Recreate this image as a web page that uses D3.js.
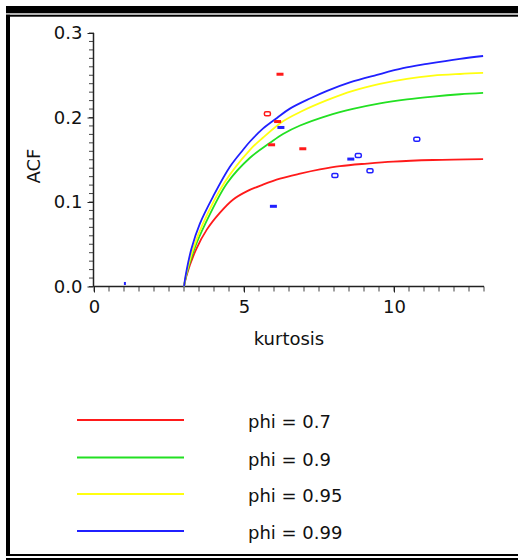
<!DOCTYPE html>
<html>
<head>
<meta charset="utf-8">
<script src="https://cdn.jsdelivr.net/npm/d3@7"></script>
<style>
  html, body { margin: 0; padding: 0; background: #fff; }
  svg { display: block; }
  text { font-family: "DejaVu Sans", sans-serif; fill: #111; }
</style>
</head>
<body>
<svg id="chart" width="518" height="560"></svg>
<script>
// ---- data ----
const seriesNames = ["phi = 0.7", "phi = 0.9", "phi = 0.95", "phi = 0.99"];
const seriesColors = ["#ff1a1a", "#22e022", "#ffff10", "#2020ff"];

const kurtPhi07 = [3.0, 3.08, 3.4, 3.76, 4.2, 4.63, 5.09, 5.63, 6.2, 6.87, 7.53, 8.2, 9.1, 9.97, 11.3, 12.97];
const acfPhi07  = [0.0, 0.0125, 0.0437, 0.0673, 0.0874, 0.1027, 0.1126, 0.1205, 0.1276, 0.1335, 0.1385, 0.1425, 0.1455, 0.1478, 0.1497, 0.1508];

const kurtPhi09 = [3.0, 3.08, 3.35, 3.7, 4.44, 5.2, 5.87, 6.3, 6.87, 7.77, 8.63, 9.53, 10.43, 11.3, 12.2, 12.97];
const acfPhi09  = [0.0, 0.014, 0.045, 0.0735, 0.1225, 0.1524, 0.1701, 0.1805, 0.1905, 0.202, 0.2102, 0.2168, 0.2215, 0.2248, 0.2275, 0.2291];

const kurtPhi095 = [3.0, 3.07, 3.32, 3.62, 4.34, 5.2, 5.63, 6.3, 6.87, 7.77, 8.63, 9.53, 10.43, 11.3, 12.2, 12.97];
const acfPhi095  = [0.0, 0.014, 0.046, 0.0735, 0.1225, 0.1618, 0.176, 0.1955, 0.2065, 0.2205, 0.2315, 0.2398, 0.2458, 0.2495, 0.2515, 0.2527];

const kurtPhi099 = [3.0, 3.06, 3.25, 3.53, 3.97, 4.53, 4.97, 5.2, 5.63, 6.1, 6.53, 7.2, 7.77, 8.53, 9.43, 10.3, 11.1, 12.2, 12.97];
const acfPhi099  = [0.0, 0.014, 0.045, 0.0745, 0.1065, 0.1417, 0.1618, 0.1716, 0.1868, 0.1995, 0.2105, 0.2225, 0.2315, 0.2415, 0.2504, 0.2583, 0.2634, 0.2695, 0.2728];

// observed points
const redPtKurt  = [6.2, 5.78, 6.12, 5.92, 6.96];
const redPtAcf   = [0.2512, 0.2043, 0.1952, 0.1677, 0.163];
const redPtShape = ["dash", "ring", "dash", "dash", "dash"];

const bluePtKurt  = [1.03, 6.23, 10.76, 8.56, 8.81, 9.2, 8.03, 5.98];
const bluePtAcf   = [0.003, 0.1882, 0.1744, 0.1508, 0.155, 0.137, 0.1315, 0.0949];
const bluePtShape = ["dot", "dash", "ring", "dash", "ring", "ring", "ring", "dash"];

const xTickValues = [0, 5, 10];
const yTickValues = [0.0, 0.1, 0.2, 0.3];
const xLabel = "kurtosis";
const yLabel = "ACF";

// ---- build ----
const svg = d3.select("#chart");

// frame
svg.append("rect").attr("x", 6).attr("y", 6).attr("width", 512).attr("height", 7.3).attr("fill", "#000");
svg.append("rect").attr("x", 6).attr("y", 14.7).attr("width", 512).attr("height", 2).attr("fill", "#000");
svg.append("rect").attr("x", 6).attr("y", 14.7).attr("width", 4).attr("height", 541.3).attr("fill", "#000");
svg.append("rect").attr("x", 6).attr("y", 554).attr("width", 512).attr("height", 2).attr("fill", "#000");
svg.append("rect").attr("x", 6).attr("y", 558).attr("width", 512).attr("height", 2).attr("fill", "#000");

const x = d3.scaleLinear().domain([0, 13]).range([94, 484]);
const y = d3.scaleLinear().domain([0, 0.3]).range([286.5, 33]);

// minor ticks
const g = svg.append("g");
const xMinor = d3.range(0, 13.001, 0.5);
g.selectAll(".xminor").data(xMinor).join("line")
  .attr("x1", d => x(d)).attr("x2", d => x(d))
  .attr("y1", y(0)).attr("y2", y(0) + 5)
  .attr("stroke", "#444").attr("stroke-width", 1);
const yMinor = d3.range(0, 0.3001, 0.01);
g.selectAll(".yminor").data(yMinor).join("line")
  .attr("x1", x(0) - 5).attr("x2", x(0))
  .attr("y1", d => y(d)).attr("y2", d => y(d))
  .attr("stroke", "#444").attr("stroke-width", 1);

// axes
const xAxis = d3.axisBottom(x).tickValues(xTickValues).tickSize(6).tickPadding(8).tickFormat(d3.format("d"));
const yAxis = d3.axisLeft(y).tickValues(yTickValues).tickSize(6).tickPadding(5).tickFormat(d3.format(".1f"));

const gx = svg.append("g").attr("transform", `translate(0,${y(0)})`).call(xAxis);
const gy = svg.append("g").attr("transform", `translate(${x(0) - 0.5},0)`).call(yAxis);
[gx, gy].forEach(a => {
  a.select(".domain").attr("stroke", "#222").attr("stroke-width", 1.5);
  a.selectAll(".tick line").attr("stroke", "#222");
  a.selectAll(".tick text").attr("font-family", "DejaVu Sans").attr("font-size", 18).attr("fill", "#222");
});
gx.select(".domain").attr("d", `M${x(0)},0H${x(13)}`);
gy.select(".domain").attr("d", `M0,${y(0)}V${y(0.3)}`);

svg.append("text").attr("x", x(6.5)).attr("y", 345).attr("text-anchor", "middle")
  .attr("font-size", 18).attr("fill", "#222").text(xLabel);
svg.append("text").attr("transform", "translate(40,166) rotate(-90)").attr("text-anchor", "middle")
  .attr("font-size", 18).attr("fill", "#222").text(yLabel);

// curves
const curves = [
  d3.zip(kurtPhi07, acfPhi07),
  d3.zip(kurtPhi09, acfPhi09),
  d3.zip(kurtPhi095, acfPhi095),
  d3.zip(kurtPhi099, acfPhi099)
];
const line = d3.line().x(d => x(d[0])).y(d => y(d[1])).curve(d3.curveCatmullRom.alpha(0.5));
svg.append("g").selectAll("path").data(curves).join("path")
  .attr("d", line).attr("fill", "none")
  .attr("stroke", (d, i) => seriesColors[i]).attr("stroke-width", 1.8);

// points
function drawPoints(ks, as, shapes, color) {
  const pts = d3.zip(ks, as, shapes);
  const gp = svg.append("g");
  gp.selectAll("rect.dash").data(pts.filter(p => p[2] === "dash")).join("rect")
    .attr("x", d => x(d[0]) - 3.5).attr("y", d => y(d[1]) - 1.5)
    .attr("width", 7).attr("height", 3).attr("fill", color);
  gp.selectAll("rect.dot").data(pts.filter(p => p[2] === "dot")).join("rect")
    .attr("x", d => x(d[0]) - 1).attr("y", d => y(d[1]) - 2)
    .attr("width", 2).attr("height", 3).attr("fill", color);
  gp.selectAll("rect.ring").data(pts.filter(p => p[2] === "ring")).join("rect")
    .attr("x", d => x(d[0]) - 3).attr("y", d => y(d[1]) - 2)
    .attr("width", 6).attr("height", 4).attr("rx", 1.5)
    .attr("fill", "none").attr("stroke", color).attr("stroke-width", 1.5);
}
drawPoints(redPtKurt, redPtAcf, redPtShape, seriesColors[0]);
drawPoints(bluePtKurt, bluePtAcf, bluePtShape, seriesColors[3]);

// legend
const legendY = [420, 457.5, 494, 531];
const lg = svg.append("g");
seriesNames.forEach((name, i) => {
  lg.append("line").attr("x1", 77).attr("x2", 184).attr("y1", legendY[i]).attr("y2", legendY[i])
    .attr("stroke", seriesColors[i]).attr("stroke-width", 1.8);
  lg.append("text").attr("x", 248).attr("y", legendY[i] + 8).attr("font-size", 18)
    .attr("fill", "#222").text(name);
});
</script>
</body>
</html>
